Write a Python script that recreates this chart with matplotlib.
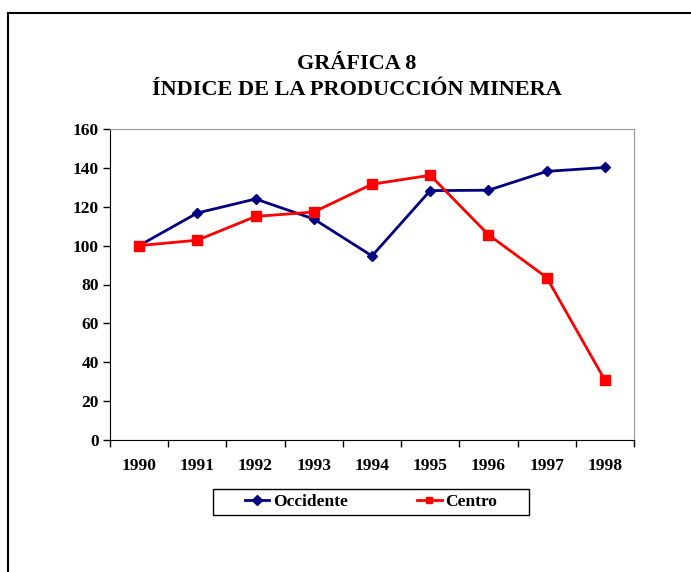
import matplotlib
matplotlib.use('Agg')
import matplotlib.pyplot as plt
from matplotlib.lines import Line2D
from matplotlib.patches import Rectangle

years = ['1990', '1991', '1992', '1993', '1994', '1995', '1996', '1997', '1998']
occidente = [100, 116.8, 124.0, 113.7, 94.7, 128.3, 128.5, 138.2, 140.2]
centro = [100, 102.8, 115.0, 117.3, 131.6, 136.2, 105.6, 83.6, 30.8]
yticks = [0, 20, 40, 60, 80, 100, 120, 140, 160]

plt.rcParams['font.family'] = ['Liberation Serif', 'DejaVu Serif']
plt.rcParams['font.weight'] = 'bold'

W, H = 691, 572
fig = plt.figure(figsize=(W / 100, H / 100), dpi=100)
ax = fig.add_axes([110 / W, 1 - 440 / H, (634 - 110) / W, (440 - 129) / H])

x = list(range(len(years)))
ax.plot(x, occidente, color='#000080', lw=2, marker='D', ms=5, label='Occidente')
ax.plot(x, centro, color='#ff0000', lw=2, marker='s', ms=7, label='Centro')

ax.set_xlim(-0.5, len(years) - 0.5)
ax.set_ylim(0, 160)
ax.set_yticks(yticks)
ax.set_yticklabels([str(v) for v in yticks], fontsize=12.5, fontweight='bold')

# category labels centred, tick marks at the category boundaries
ax.set_xticks(x)
ax.set_xticklabels(years, fontsize=12.5, fontweight='bold')
ax.tick_params(axis='x', which='major', length=0, pad=13)
ax.set_xticks([i - 0.5 for i in range(len(years) + 1)], minor=True)
ax.tick_params(axis='x', which='minor', length=5, direction='out', width=1)
ax.tick_params(axis='y', length=5, direction='out', width=1, pad=3)

for s in ['top', 'right']:
    ax.spines[s].set_color('#999999')
for s in ['left', 'bottom']:
    ax.spines[s].set_color('black')

fig.text(357 / W, 1 - 64 / H, 'GRÁFICA 8',
         ha='center', va='center', fontsize=16, fontweight='bold')
fig.text(357 / W, 1 - 90 / H, 'ÍNDICE DE LA PRODUCCIÓN MINERA',
         ha='center', va='center', fontsize=16, fontweight='bold')

# legend drawn without its own frame; the wider box is a separate rectangle
leg = fig.legend(loc='center', bbox_to_anchor=(371 / W, 1 - 502 / H), ncol=2,
                 frameon=False, handlelength=1.4, handletextpad=0.2,
                 columnspacing=4.0, prop={'weight': 'bold', 'size': 12.5})
for h in leg.legend_handles:
    h.set_markersize(5)
fig.add_artist(Rectangle((213 / W, 1 - 515 / H), (529 - 213) / W, 26 / H,
                         transform=fig.transFigure, fill=False,
                         edgecolor='black', lw=1))

# page frame lines (left and top)
fig.add_artist(Line2D([7.5 / W, 7.5 / W], [0, 1 - 12.5 / H], color='black', lw=1.5))
fig.add_artist(Line2D([7.5 / W, 1], [1 - 12.5 / H, 1 - 12.5 / H], color='black', lw=1.5))

fig.savefig('out.png', dpi=100)
